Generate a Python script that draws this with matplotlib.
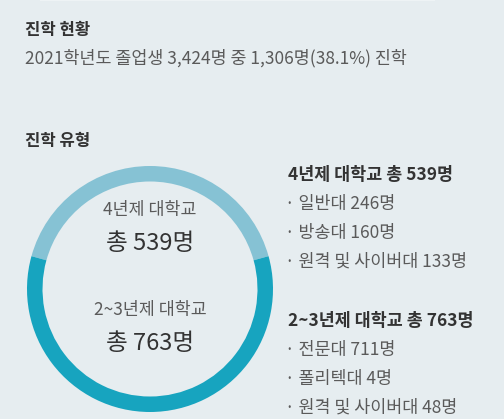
import matplotlib as mpl
import matplotlib.pyplot as plt

mpl.rcParams['font.family'] = ['Noto Sans CJK KR', 'DejaVu Sans']

# data
groups = ['4년제 대학교', '2~3년제 대학교']
totals = [539, 763]
details = [
    [('일반대', 246), ('방송대', 160), ('원격 및 사이버대', 133)],
    [('전문대', 711), ('폴리텍대', 4), ('원격 및 사이버대', 48)],
]
graduates = 3424
advanced = 1306
ratio = 38.1

BG = '#e6edf0'
colors = ['#86c2d4', '#17a4bf']
dark = '#333333'
gray = '#5a5a5a'
fs = 12.5

W, H = 504, 419
fig = plt.figure(figsize=(W / 100, H / 100), dpi=100, facecolor=BG)
ax = fig.add_axes([0, 0, 1, 1])
ax.set_facecolor(BG)

# faint strip at the very top
ax.add_patch(plt.Rectangle((40, 0), 395, 1.5, color='#eef3f5', lw=0))

# ring: light part centred on top (y axis is inverted, so 270 deg is up)
frac = totals[0] / sum(totals)
ax.pie(totals, colors=colors, center=(150, 289), radius=123,
       startangle=270 - frac * 180, counterclock=True,
       wedgeprops=dict(width=15.5, linewidth=0))

ax.set_xlim(0, W)
ax.set_ylim(H, 0)
ax.set_aspect('equal')
ax.axis('off')

# headers
ax.text(25, 30, '진학 현황', fontsize=12, fontweight='bold', color=dark, va='center')
ax.text(25, 58, f'2021학년도 졸업생 {graduates:,}명 중 {advanced:,}명({ratio}%) 진학',
        fontsize=fs, color=gray, va='center')
ax.text(25, 141, '진학 유형', fontsize=12, fontweight='bold', color=dark, va='center')

# texts inside the ring
for name, tot, y in zip(groups, totals, [210, 310]):
    ax.text(150, y, name, fontsize=fs, color=gray, ha='center', va='center')
    ax.text(150, y + 33, f'총 {tot}명', fontsize=17, fontweight='medium', color=dark,
            ha='center', va='center')

# detail list on the right
for (name, tot, items), y0 in zip(zip(groups, totals, details), [175, 321]):
    ax.text(288, y0, f'{name} 총 {tot}명', fontsize=fs, fontweight='bold', color=dark, va='center')
    for k, (lab, n) in enumerate(items):
        ax.text(285, y0 + 29 * (k + 1), f'· {lab} {n}명', fontsize=fs, color=gray, va='center')

fig.savefig('out.png', dpi=100, facecolor=BG)
